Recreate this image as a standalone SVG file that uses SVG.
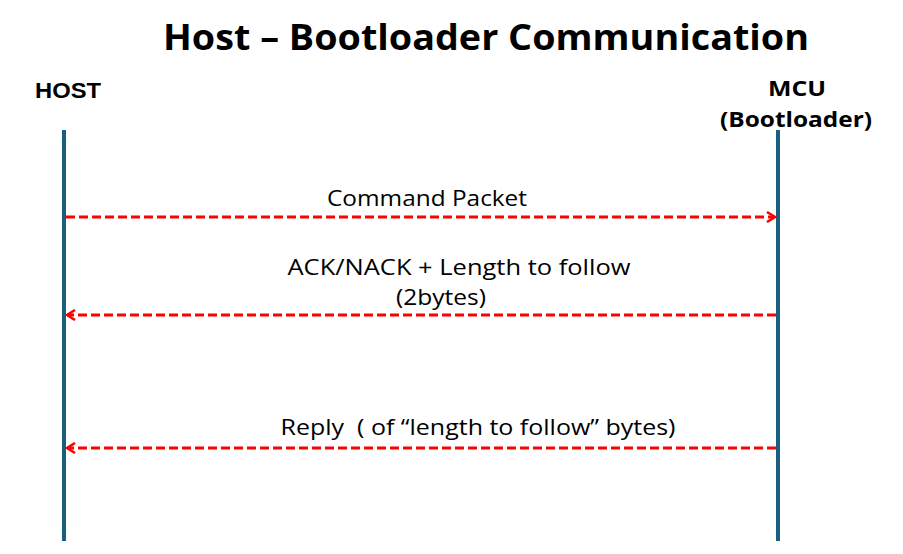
<svg xmlns="http://www.w3.org/2000/svg" width="903" height="554" viewBox="0 0 903 554">
<defs>
<style>
.t{font-family:"Open Sans","Liberation Sans","Noto Sans CJK SC",sans-serif;fill:#000}
.a{font-family:"Liberation Sans",Arial,sans-serif}
.b{font-weight:bold}
.life{stroke:#185f80;stroke-width:4;fill:none}
.msg{stroke:#ff0000;stroke-width:3;stroke-dasharray:9 4;fill:none}
</style>
<marker id="ah" viewBox="0 0 12 12" refX="10" refY="6" markerWidth="12" markerHeight="12" markerUnits="userSpaceOnUse" orient="auto">
<path d="M2,1 L10,6 L2,11" fill="none" stroke="#ff0000" stroke-width="2.5"/>
</marker>
</defs>
<rect width="903" height="554" fill="#fff"/>
<text class="t b" x="486" y="50" font-size="36" text-anchor="middle" textLength="646" lengthAdjust="spacingAndGlyphs">Host – Bootloader Communication</text>
<g id="host">
<text class="t a b" x="68" y="98" font-size="22" text-anchor="middle" textLength="66" lengthAdjust="spacingAndGlyphs">HOST</text>
<line class="life" x1="64" y1="130" x2="64" y2="541"/>
</g>
<g id="mcu">
<text class="t b" x="797" y="96" font-size="22" text-anchor="middle" textLength="58" lengthAdjust="spacingAndGlyphs">MCU</text>
<text class="t b" x="796" y="127" font-size="22" text-anchor="middle" textLength="152" lengthAdjust="spacingAndGlyphs">(Bootloader)</text>
<line class="life" x1="778" y1="130" x2="778" y2="541"/>
</g>
<g id="connectors">
<line class="msg" x1="66" y1="217" x2="775" y2="217" marker-end="url(#ah)"/>
<line class="msg" x1="776" y1="315" x2="67" y2="315" marker-end="url(#ah)"/>
<line class="msg" x1="776" y1="448" x2="67" y2="448" marker-end="url(#ah)"/>
</g>
<g id="labels">
<text class="t" x="427" y="206" font-size="21" text-anchor="middle" textLength="200" lengthAdjust="spacingAndGlyphs">Command Packet</text>
<text class="t" x="459" y="275" font-size="21" text-anchor="middle" textLength="343" lengthAdjust="spacingAndGlyphs">ACK/NACK + Length to follow</text>
<text class="t" x="441" y="305" font-size="21" text-anchor="middle" textLength="90" lengthAdjust="spacingAndGlyphs">(2bytes)</text>
<text class="t" x="478" y="435" font-size="21" text-anchor="middle" textLength="395" lengthAdjust="spacingAndGlyphs" xml:space="preserve">Reply  ( of “length to follow” bytes)</text>
</g>
</svg>
